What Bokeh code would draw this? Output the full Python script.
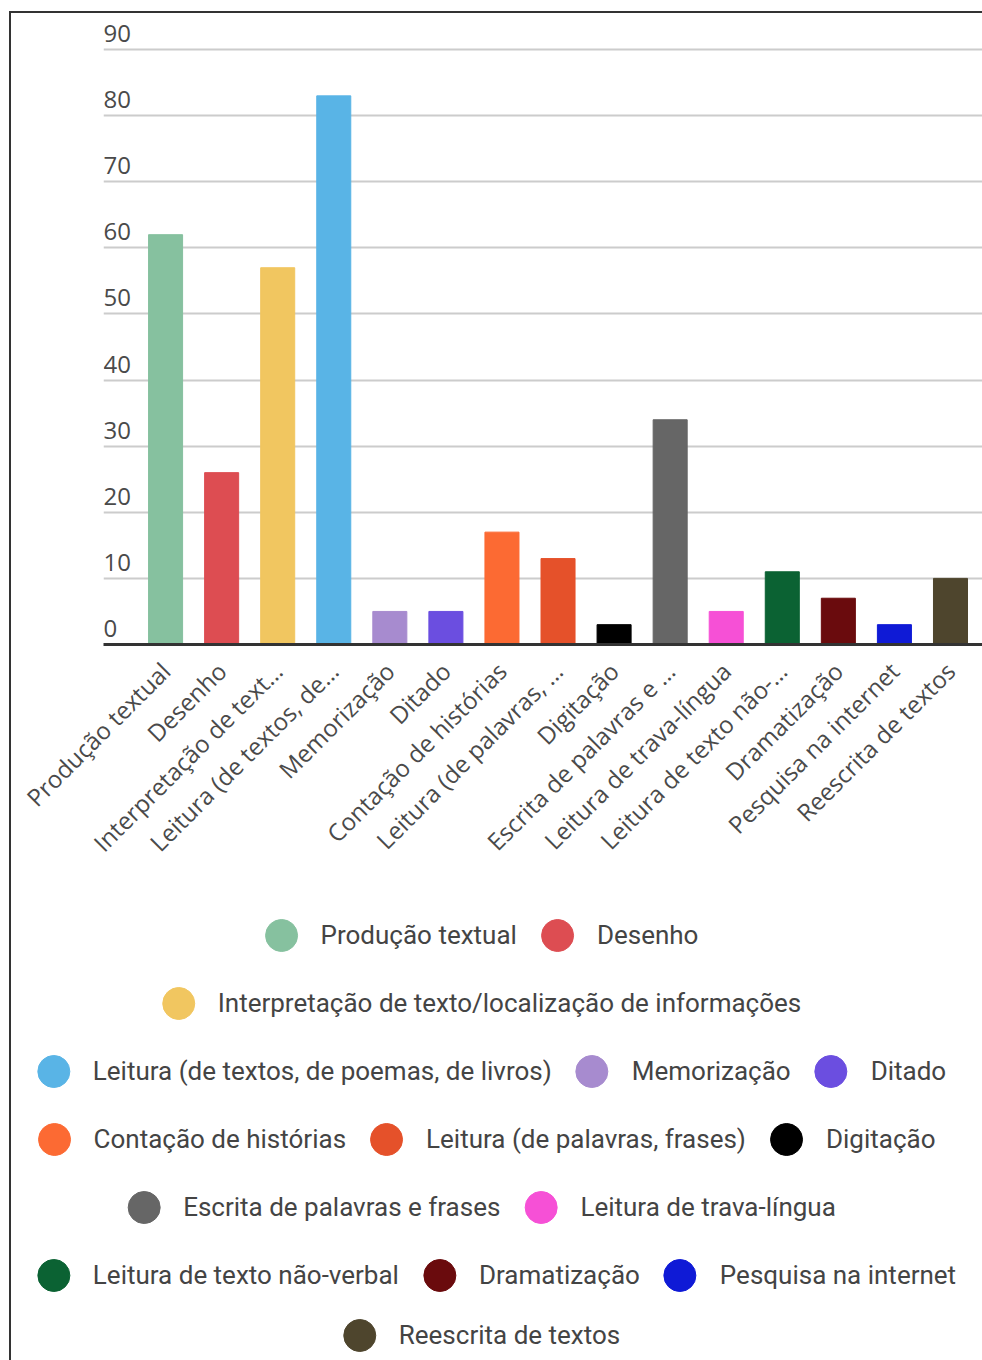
import math
from bokeh.plotting import figure
from bokeh.layouts import column
from bokeh.models import Range1d, FixedTicker, ColumnDataSource, Legend, LegendItem
from bokeh.core.properties import value
from bokeh.embed import file_html
from bokeh.resources import INLINE

categories = [
    "Produção textual",
    "Desenho",
    "Interpretação de texto/localização de informações",
    "Leitura (de textos, de poemas, de livros)",
    "Memorização",
    "Ditado",
    "Contação de histórias",
    "Leitura (de palavras, frases)",
    "Digitação",
    "Escrita de palavras e frases",
    "Leitura de trava-língua",
    "Leitura de texto não-verbal",
    "Dramatização",
    "Pesquisa na internet",
    "Reescrita de textos",
]
tick_labels = [
    "Produção textual",
    "Desenho",
    "Interpretação de text…",
    "Leitura (de textos, de…",
    "Memorização",
    "Ditado",
    "Contação de histórias",
    "Leitura (de palavras, …",
    "Digitação",
    "Escrita de palavras e …",
    "Leitura de trava-língua",
    "Leitura de texto não-…",
    "Dramatização",
    "Pesquisa na internet",
    "Reescrita de textos",
]
values = [62, 26, 57, 83, 5, 5, 17, 13, 3, 34, 5, 11, 7, 3, 10]
colors = [
    "#86c19f", "#dd4d52", "#f1c660", "#59b4e6", "#a78bcf",
    "#6b4ee0", "#fc6a33", "#e5512a", "#000000", "#666666",
    "#f650d6", "#0b6233", "#6a0b0d", "#0f1ad6", "#4e452d",
]
y_ticks = [0, 10, 20, 30, 40, 50, 60, 70, 80, 90]
legend_rows = [[0, 1], [2], [3, 4, 5], [6, 7, 8], [9, 10], [11, 12, 13], [14]]
# right border of each legend row (layout only: shifts the centred row, keeps text unclipped)
row_right_border = [54, 54, 34, 44, 54, 24, 54]

xpos = list(range(len(categories)))
src = ColumnDataSource(dict(x=xpos, top=values, color=colors, cat=categories))

x_start, x_end = -1.107, 14.571
p = figure(
    width=971, height=888,
    x_range=Range1d(x_start, x_end), y_range=Range1d(0, 95.46),
    output_backend="svg", toolbar_location=None,
    min_border_left=92, min_border_right=0, min_border_top=0, min_border_bottom=257,
)
p.frame_align = False
p.outline_line_color = None
p.background_fill_color = "white"
p.border_fill_color = "white"

p.vbar(x="x", top="top", width=0.607, bottom=0, color="color", source=src)

p.text(x=[x_start] * len(y_ticks), y=y_ticks, text=[str(t) for t in y_ticks],
       text_font=value("Open Sans"), text_font_size="24px", text_color="#4a4a4a",
       text_align="left", text_baseline="alphabetic", y_offset=-16)

p.yaxis.visible = False
p.ygrid.ticker = FixedTicker(ticks=y_ticks)
p.ygrid.grid_line_color = "#cccccc"
p.ygrid.grid_line_width = 2
p.xgrid.visible = False

ax = p.xaxis[0]
ax.ticker = FixedTicker(ticks=xpos)
ax.major_label_overrides = {i: lab for i, lab in enumerate(tick_labels)}
ax.major_label_orientation = math.pi / 4
ax.major_label_text_font = "Open Sans"
ax.major_label_text_font_size = "24px"
ax.major_label_text_color = "#4a4a4a"
ax.major_label_standoff = 16
ax.major_tick_line_color = None
ax.minor_tick_line_color = None
ax.axis_line_color = "#333333"
ax.axis_line_width = 3

rows = []
for n, row in enumerate(legend_rows):
    last = n == len(legend_rows) - 1
    f = figure(width=971, height=51 if last else 68, output_backend="svg",
               toolbar_location=None, x_axis_location=None, y_axis_location=None,
               min_border_left=0, min_border_right=row_right_border[n],
               min_border_top=0, min_border_bottom=0)
    f.frame_align = False
    f.outline_line_color = None
    f.grid.visible = False
    r = f.scatter(x="x", y="top", color="color", source=src, size=10, visible=False)
    items = [LegendItem(label=categories[i], renderers=[r], index=i) for i in row]
    lg = Legend(
        items=items, orientation="horizontal", location="center",
        glyph_width=80, glyph_height=80, label_standoff=0, spacing=0,
        padding=0, margin=0,
        border_line_color=None, background_fill_alpha=0,
        label_text_font="Roboto", label_text_font_size="26px",
        label_text_color="#444444",
    )
    f.add_layout(lg, "center")
    rows.append(f)

layout = column([p] + rows, spacing=0,
                styles={"border-left": "2px solid #333333",
                        "border-top": "2px solid #333333",
                        "margin-left": "9px", "margin-top": "11px"})

open("out.html", "w").write(file_html(layout, INLINE))
